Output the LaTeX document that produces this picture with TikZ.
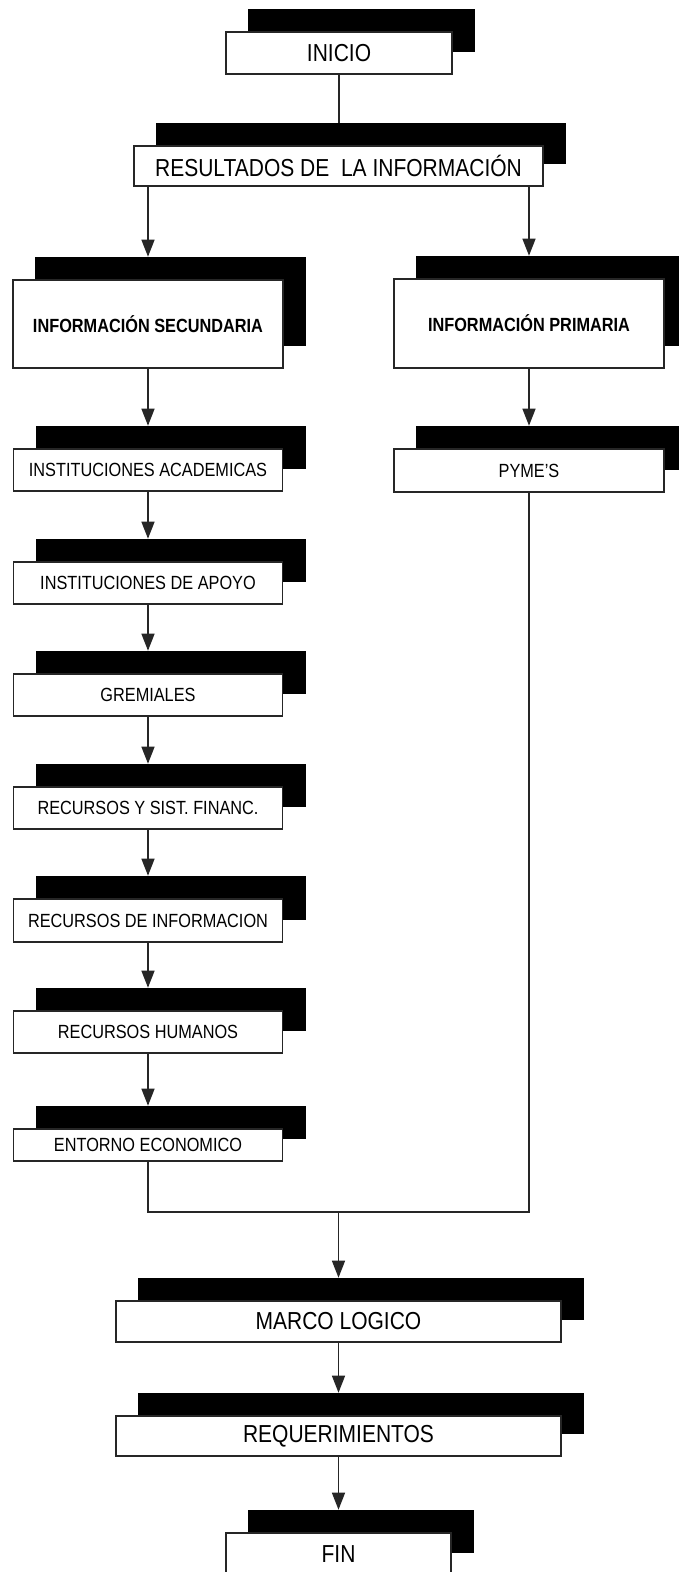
\documentclass[tikz,border=0pt]{standalone}
\usepackage{fontspec}
\setmainfont{Liberation Sans}
\usepackage{graphicx}
\usetikzlibrary{arrows.meta}

% tall, narrow lettering used in every box
\newcommand{\tallt}[1]{\scalebox{1}[1.17]{#1}}
% box with a black block behind it, shifted up and to the right
% #1 name, #2 x, #3 y, #4 width, #5 height, #6 text style, #7 text
\newcommand{\stackedbox}[7]{%
  \node[shd, minimum width=#4pt, minimum height=#5pt] (#1-s) at ({#2+22.5},{#3-23}) {};
  \node[wbox, #6, minimum width=#4pt, minimum height=#5pt] (#1) at (#2,#3) {\tallt{#7}};}

\begin{document}
\begin{tikzpicture}[x=1pt,y=-1pt,
  shd/.style={fill=black, draw=black, line width=0.6pt, inner sep=0pt},
  wbox/.style={fill=white, draw=black!85, line width=1.3pt, inner sep=0pt, align=center},
  big/.style={font=\fontsize{21}{25}\selectfont},
  small/.style={font=\fontsize{16.3}{19}\selectfont},
  heavy/.style={font=\fontsize{16.3}{19}\selectfont\bfseries},
  link/.style={draw=black!85, line width=1.4pt},
  flow/.style={link, -{Triangle[length=17pt,width=13pt]}}]

\useasboundingbox[fill=white] (0,0) rectangle (678,1572);

% top of the chart
\stackedbox{inicio}{339}{53}{226}{42}{big}{INICIO}
\stackedbox{res}{338.5}{166}{409}{40}{big}{RESULTADOS DE\ \ LA INFORMACIÓN}

% the two branches
\stackedbox{sec}{148}{324}{270}{88}{heavy}{INFORMACIÓN SECUNDARIA}
\stackedbox{prim}{529}{323.5}{270}{89}{heavy}{INFORMACIÓN PRIMARIA}

% secondary sources
\stackedbox{acad}{148}{470}{269}{42}{small}{INSTITUCIONES ACADEMICAS}
\stackedbox{apoyo}{148}{583}{269}{42}{small}{INSTITUCIONES DE APOYO}
\stackedbox{grem}{148}{695}{269}{42}{small}{GREMIALES}
\stackedbox{finan}{148}{808}{269}{42}{small}{RECURSOS Y SIST. FINANC.}
\stackedbox{rinfo}{148}{920.5}{269}{43}{small}{RECURSOS DE INFORMACION}
\stackedbox{rhum}{148}{1032}{269}{42}{small}{RECURSOS HUMANOS}
\stackedbox{entorno}{148}{1145}{269}{32}{small}{ENTORNO ECONOMICO}

% primary source
\stackedbox{pyme}{529}{470.5}{270}{43}{small}{PYME'S}

% closing steps
\stackedbox{marco}{338.5}{1321.5}{445}{41}{big}{MARCO LOGICO}
\stackedbox{req}{338.5}{1436}{445}{40}{big}{REQUERIMIENTOS}
\stackedbox{fin}{338.5}{1554}{225}{42}{big}{FIN}

\coordinate (join) at (338.5,1212);

% connectors
\draw[link] (inicio.south) -- (inicio.south |- res-s.north);
\draw[flow] (sec |- res.south) -- (sec |- sec-s.north);
\draw[flow] (prim |- res.south) -- (prim |- prim-s.north);
\draw[flow] (sec.south) -- (sec.south |- acad-s.north);
\draw[flow] (prim.south) -- (prim.south |- pyme-s.north);
\draw[flow] (acad.south) -- (acad.south |- apoyo-s.north);
\draw[flow] (apoyo.south) -- (apoyo.south |- grem-s.north);
\draw[flow] (grem.south) -- (grem.south |- finan-s.north);
\draw[flow] (finan.south) -- (finan.south |- rinfo-s.north);
\draw[flow] (rinfo.south) -- (rinfo.south |- rhum-s.north);
\draw[flow] (rhum.south) -- (rhum.south |- entorno-s.north);
\draw[link] (entorno.south) |- (join) -| (pyme.south);
\draw[flow] (join) -- (join |- marco-s.north);
\draw[flow] (marco.south) -- (marco.south |- req-s.north);
\draw[flow] (req.south) -- (req.south |- fin-s.north);
\end{tikzpicture}
\end{document}
